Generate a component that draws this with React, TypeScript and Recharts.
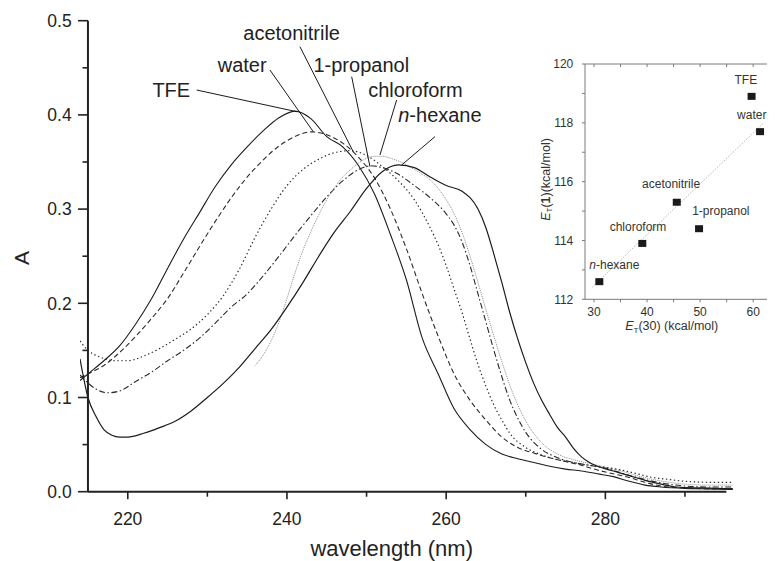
import React from "react";
import {
  ComposedChart,
  Label,
  Line,
  LineChart,
  ReferenceDot,
  ReferenceLine,
  Scatter,
  XAxis,
  YAxis,
} from "recharts";

// ---- UV spectra: wavelength (nm) / absorbance ----
const TFE_WL = [214, 215, 217, 219, 221, 223, 225, 227, 229, 231, 233, 235, 237, 239, 241, 243, 245, 247, 249, 251, 253, 255, 257, 259, 261, 263, 265, 267, 269, 271, 273, 275, 277, 279, 281, 283, 285, 287, 290, 293, 296];
const TFE_A = [0.118, 0.125, 0.139, 0.155, 0.178, 0.205, 0.237, 0.268, 0.296, 0.324, 0.347, 0.366, 0.383, 0.397, 0.404, 0.396, 0.377, 0.366, 0.346, 0.316, 0.273, 0.225, 0.163, 0.125, 0.088, 0.066, 0.05, 0.04, 0.035, 0.031, 0.027, 0.024, 0.022, 0.019, 0.016, 0.011, 0.007, 0.005, 0.0035, 0.003, 0.0025];

const WATER_WL = [214, 215, 217, 219, 221, 223, 225, 227, 229, 231, 233, 235, 237, 239, 241, 243, 245, 247, 249, 251, 253, 255, 257, 259, 261, 263, 265, 267, 269, 271, 273, 275, 277, 279, 281, 283, 285, 287, 290, 293, 296];
const WATER_A = [0.121, 0.125, 0.134, 0.148, 0.165, 0.184, 0.205, 0.232, 0.26, 0.287, 0.312, 0.334, 0.352, 0.367, 0.377, 0.382, 0.379, 0.37, 0.355, 0.333, 0.3, 0.258, 0.21, 0.165, 0.125, 0.097, 0.076, 0.058, 0.047, 0.041, 0.036, 0.032, 0.028, 0.023, 0.019, 0.015, 0.01, 0.006, 0.004, 0.003, 0.003];

const ACN_WL = [214, 215, 216.5, 218.5, 220, 222, 224, 226, 228, 230, 232, 234, 236, 238, 240, 242, 244, 246, 248, 250, 252, 254, 256, 258, 259, 260, 261, 262, 263, 264, 265, 266, 267, 268, 270, 272, 274, 276, 278, 280, 282, 284, 286, 288, 290, 293, 296];
const ACN_A = [0.16, 0.15, 0.143, 0.139, 0.139, 0.144, 0.152, 0.162, 0.173, 0.188, 0.208, 0.236, 0.27, 0.3, 0.325, 0.342, 0.353, 0.36, 0.362, 0.357, 0.345, 0.33, 0.31, 0.28, 0.262, 0.24, 0.215, 0.19, 0.162, 0.135, 0.112, 0.092, 0.076, 0.062, 0.047, 0.039, 0.034, 0.031, 0.028, 0.026, 0.023, 0.019, 0.015, 0.013, 0.011, 0.01, 0.01];

const PROP_WL = [214, 216, 217.5, 219, 221, 223, 225, 227, 229, 231, 233, 235, 237, 239, 241, 243, 245, 247, 249, 250.5, 252, 254, 256, 258, 260, 261, 262, 263, 264, 265, 266, 267, 268, 269, 270, 272, 274, 276, 278, 280, 282, 284, 286, 288, 290, 293, 296];
const PROP_A = [0.124, 0.109, 0.105, 0.107, 0.117, 0.127, 0.139, 0.15, 0.163, 0.179, 0.196, 0.21, 0.229, 0.25, 0.272, 0.293, 0.313, 0.33, 0.342, 0.346, 0.344, 0.337, 0.325, 0.312, 0.295, 0.283, 0.265, 0.24, 0.21, 0.18, 0.15, 0.122, 0.097, 0.078, 0.063, 0.045, 0.036, 0.031, 0.028, 0.025, 0.02, 0.015, 0.011, 0.008, 0.006, 0.005, 0.005];

const CHL_WL = [236, 237, 238, 239, 240, 241, 242, 243, 244, 245, 246, 247, 248, 249, 250, 251, 252, 253, 254, 255, 256, 257, 258, 259, 260, 261, 262, 263, 264, 265, 266, 267, 268, 269, 270, 271, 272, 274, 276, 278, 280, 282, 284, 286, 288, 290, 293, 296];
const CHL_A = [0.134, 0.145, 0.16, 0.18, 0.205, 0.232, 0.256, 0.276, 0.294, 0.31, 0.323, 0.334, 0.342, 0.349, 0.354, 0.356, 0.356, 0.354, 0.351, 0.347, 0.342, 0.337, 0.331, 0.322, 0.31, 0.295, 0.275, 0.25, 0.222, 0.193, 0.165, 0.138, 0.113, 0.092, 0.075, 0.062, 0.052, 0.04, 0.034, 0.03, 0.026, 0.022, 0.017, 0.013, 0.01, 0.008, 0.007, 0.007];

const HEX_WL = [214, 215, 216, 217, 218, 219, 220, 222, 224, 226, 228, 230, 232, 234, 236, 238, 240, 242, 244, 246, 248, 250, 252, 254, 256, 258, 260, 262, 264, 265, 266, 267, 268, 269, 270, 271, 272, 273, 274, 275, 276, 277, 278, 279, 281, 283, 285, 287, 289, 292, 296];
const HEX_A = [0.141, 0.1, 0.08, 0.066, 0.06, 0.058, 0.058, 0.062, 0.068, 0.075, 0.086, 0.1, 0.115, 0.132, 0.152, 0.172, 0.196, 0.222, 0.25, 0.276, 0.298, 0.322, 0.34, 0.347, 0.344, 0.334, 0.325, 0.319, 0.3, 0.28, 0.252, 0.222, 0.19, 0.162, 0.137, 0.115, 0.097, 0.082, 0.068, 0.058, 0.046, 0.037, 0.031, 0.027, 0.022, 0.017, 0.012, 0.008, 0.005, 0.004, 0.003];

const WL_TICKS = [220, 230, 240, 250, 260, 270, 280, 290];
const A_TICKS = [0, 0.05, 0.1, 0.15, 0.2, 0.25, 0.3, 0.35, 0.4, 0.45, 0.5];

// ---- inset: E_T(30) vs E_T(1) ----
const SOLVENTS = ["n-hexane", "chloroform", "acetonitrile", "1-propanol", "TFE", "water"];
const ET30 = [31.0, 39.1, 45.6, 49.8, 59.7, 61.3];
const ET1 = [112.6, 113.9, 115.3, 114.4, 118.9, 117.7];
const FIT_ET30 = [29.7, 61.9];
const FIT_ET1 = [112.42, 117.98];
const ET30_TICKS = [30, 35, 40, 45, 50, 55, 60, 65];
const ET1_TICKS = [112, 113, 114, 115, 116, 117, 118, 119, 120];

// leader lines: [label end, point on curve]
const LEADERS = [
  { name: "TFE", from: [228.66, 0.4264], to: [241.22, 0.4034] },
  { name: "water", from: [237.86, 0.4477], to: [243.3, 0.3822] },
  { name: "acetonitrile", from: [241.63, 0.4724], to: [248.33, 0.3609] },
  { name: "1-propanol", from: [248.13, 0.4406], to: [250.43, 0.345] },
  { name: "chloroform", from: [253.78, 0.4158], to: [251.68, 0.3574] },
  { name: "n-hexane", from: [258.59, 0.3769], to: [254.41, 0.3468] },
];

const LEADER_TEXT: Record<string, { dx: number; dy: number; anchor: string }> = {
  TFE: { dx: -6.5, dy: 7, anchor: "end" },
  water: { dx: -3.3, dy: 1.7, anchor: "end" },
  acetonitrile: { dx: -8.3, dy: -6.7, anchor: "middle" },
  "1-propanol": { dx: 9.6, dy: -4.7, anchor: "middle" },
  chloroform: { dx: 18.8, dy: -3, anchor: "middle" },
  "n-hexane": { dx: 5, dy: -15, anchor: "middle" },
};

const INSET_TEXT: Record<string, { dx: number; dy: number }> = {
  TFE: { dx: -5.7, dy: -12.7 },
  water: { dx: -8.3, dy: -12.7 },
  acetonitrile: { dx: -5.7, dy: -14 },
  "1-propanol": { dx: 21.8, dy: -13.7 },
  chloroform: { dx: -4.3, dy: -12 },
  "n-hexane": { dx: 15, dy: -13 },
};

const FONT = "'Liberation Sans', Arial, Helvetica, sans-serif";
const INK = "#222";
const INSET_AXIS = "#7a7a7a";

const W = 767;
const H = 553;
const PLOT_LEFT = 72;
const PLOT_RIGHT = 728.7;
const PLOT_TOP = 12.7;
const PLOT_BOTTOM = 483.7;
const WL_MIN = 214;
const WL_MAX = 296.5;
const AXIS_X = PLOT_LEFT + ((215 - WL_MIN) * (PLOT_RIGHT - PLOT_LEFT)) / (WL_MAX - WL_MIN);

// inset geometry (relative to the inset svg)
const IN_W = 260;
const IN_H = 320;
const IN_LEFT = 47;
const IN_RIGHT = 247;
const IN_TOP = 26;
const ET30_MIN = 28.3;
const ET30_MAX = 66;
const inX = (v: number) => IN_LEFT + ((v - ET30_MIN) * (IN_RIGHT - IN_LEFT)) / (ET30_MAX - ET30_MIN);

const zip = (xs: number[], ys: number[]) => xs.map((x, i) => ({ x, y: ys[i] }));

const SERIES = [
  { name: "TFE", data: zip(TFE_WL, TFE_A), stroke: "#1c1c1c", dash: undefined, width: 1.1 },
  { name: "water", data: zip(WATER_WL, WATER_A), stroke: "#2a2a2a", dash: "5 3", width: 1.1 },
  { name: "acetonitrile", data: zip(ACN_WL, ACN_A), stroke: "#2a2a2a", dash: "1.4 2.6", width: 1.2 },
  { name: "1-propanol", data: zip(PROP_WL, PROP_A), stroke: "#2a2a2a", dash: "6 2.5 1.5 2.5", width: 1.1 },
  { name: "chloroform", data: zip(CHL_WL, CHL_A), stroke: "#8a8a8a", dash: "1 1", width: 1 },
  { name: "n-hexane", data: zip(HEX_WL, HEX_A), stroke: "#1c1c1c", dash: undefined, width: 1.2 },
];

const INSET_POINTS = SOLVENTS.map((name, i) => ({ name, x: ET30[i], y: ET1[i] }));
const FIT = zip(FIT_ET30, FIT_ET1);

function SolventName({ name }: { name: string }) {
  if (name === "n-hexane") {
    return (
      <>
        <tspan fontStyle="italic">n</tspan>
        <tspan>-hexane</tspan>
      </>
    );
  }
  return <>{name}</>;
}

function WlTick(props: any) {
  const { x, payload } = props;
  const major = payload.value % 20 === 0;
  return (
    <g>
      <line x1={x} x2={x} y1={PLOT_BOTTOM} y2={PLOT_BOTTOM + (major ? 7.5 : 5)} stroke={INK} strokeWidth={1.6} />
      {major && (
        <text x={x} y={PLOT_BOTTOM + 32.8} textAnchor="middle" fontFamily={FONT} fontSize={17.5} fill={INK}>
          {payload.value}
        </text>
      )}
    </g>
  );
}

function ATick(props: any) {
  const { y, payload } = props;
  const v = payload.value as number;
  const major = Math.abs(v * 10 - Math.round(v * 10)) < 1e-6;
  return (
    <g>
      <line x1={AXIS_X - (major ? 10 : 5.5)} x2={AXIS_X} y1={y} y2={y} stroke={INK} strokeWidth={1.6} />
      {major && (
        <text x={AXIS_X - 16.3} y={y} dy="0.36em" textAnchor="end" fontFamily={FONT} fontSize={17.5} fill={INK}>
          {v.toFixed(1)}
        </text>
      )}
    </g>
  );
}

function InsetSquare(props: any) {
  const { cx, cy, payload } = props;
  const t = INSET_TEXT[payload.name];
  return (
    <g>
      <rect x={cx - 4} y={cy - 3.5} width={8} height={7} fill="#1a1a1a" />
      <text x={cx + t.dx} y={cy + t.dy} textAnchor="middle" fontFamily={FONT} fontSize={12} fill="#333">
        <SolventName name={payload.name} />
      </text>
    </g>
  );
}

// top frame of the inset, with small inward ticks
function InsetTopFrame() {
  return (
    <g>
      <line x1={IN_LEFT} x2={IN_W} y1={IN_TOP} y2={IN_TOP} stroke={INSET_AXIS} strokeWidth={1} />
      {ET30_TICKS.map((t) => (
        <line key={t} x1={inX(t)} x2={inX(t)} y1={IN_TOP} y2={IN_TOP + 3} stroke={INSET_AXIS} strokeWidth={1} />
      ))}
    </g>
  );
}

function Spectra() {
  return (
    <LineChart
      width={W}
      height={H}
      margin={{ top: PLOT_TOP, right: W - PLOT_RIGHT, bottom: 0, left: 0 }}
      style={{ fontFamily: FONT }}
    >
      <XAxis
        dataKey="x"
        type="number"
        domain={[WL_MIN, WL_MAX]}
        allowDataOverflow
        ticks={WL_TICKS}
        interval={0}
        axisLine={false}
        tickLine={false}
        tickSize={0}
        tickMargin={0}
        height={H - PLOT_BOTTOM}
        tick={(p: any) => <WlTick {...p} />}
      >
        <Label
          content={() => (
            <text x={383.7} y={547.5} textAnchor="middle" fontFamily={FONT} fontSize={22} fill={INK}>
              wavelength (nm)
            </text>
          )}
        />
      </XAxis>
      <YAxis
        dataKey="y"
        type="number"
        domain={[0, 0.5]}
        allowDataOverflow
        ticks={A_TICKS}
        interval={0}
        axisLine={false}
        tickLine={false}
        tickSize={0}
        tickMargin={0}
        width={PLOT_LEFT}
        tick={(p: any) => <ATick {...p} />}
      >
        <Label
          content={() => (
            <text
              x={13}
              y={250}
              transform="rotate(-90 13 250)"
              textAnchor="middle"
              dominantBaseline="central"
              fontFamily={FONT}
              fontSize={21}
              fill={INK}
            >
              A
            </text>
          )}
        />
      </YAxis>

      {SERIES.map((s) => (
        <Line
          key={s.name}
          data={s.data}
          dataKey="y"
          type="monotone"
          stroke={s.stroke}
          strokeWidth={s.width}
          strokeDasharray={s.dash}
          dot={false}
          activeDot={false}
          isAnimationActive={false}
        />
      ))}

      {/* axes */}
      <ReferenceLine
        segment={[{ x: 215, y: 0 }, { x: 295.2, y: 0 }]}
        stroke={INK}
        strokeWidth={2}
        ifOverflow="visible"
      />
      <ReferenceLine
        segment={[{ x: 215, y: 0 }, { x: 215, y: 0.5 }]}
        stroke={INK}
        strokeWidth={2}
        ifOverflow="visible"
      />

      {LEADERS.map((l) => (
        <ReferenceLine
          key={l.name}
          segment={[{ x: l.from[0], y: l.from[1] }, { x: l.to[0], y: l.to[1] }]}
          stroke="#1a1a1a"
          strokeWidth={1}
          ifOverflow="visible"
        />
      ))}
      {LEADERS.map((l) => {
        const t = LEADER_TEXT[l.name];
        return (
          <ReferenceDot
            key={"t" + l.name}
            x={l.from[0]}
            y={l.from[1]}
            r={0}
            ifOverflow="visible"
            shape={(p: any) => (
              <text
                x={p.cx + t.dx}
                y={p.cy + t.dy}
                textAnchor={t.anchor as any}
                fontFamily={FONT}
                fontSize={20}
                fill={INK}
              >
                <SolventName name={l.name} />
              </text>
            )}
          />
        );
      })}
    </LineChart>
  );
}

function Inset() {
  return (
    <ComposedChart width={IN_W} height={IN_H} margin={{ top: IN_TOP, right: IN_W - IN_RIGHT, bottom: 0, left: 0 }}>
      <XAxis
        dataKey="x"
        type="number"
        domain={[ET30_MIN, ET30_MAX]}
        allowDataOverflow
        ticks={ET30_TICKS}
        interval={0}
        height={58.7}
        stroke={INSET_AXIS}
        tickSize={3}
        tickMargin={5}
        tick={{ fontSize: 12, fill: "#333", fontFamily: FONT }}
        tickFormatter={(v: number) => (v % 10 === 0 ? String(v) : "")}
      >
        <Label
          content={() => (
            <text x={133.7} y={292} textAnchor="middle" fontFamily={FONT} fontSize={12.5} fill="#333">
              <tspan fontStyle="italic">E</tspan>
              <tspan fontSize={8} dy={3}>T</tspan>
              <tspan dy={-3}>(30) (kcal/mol)</tspan>
            </text>
          )}
        />
        <Label content={() => <InsetTopFrame />} />
      </XAxis>
      <YAxis
        dataKey="y"
        type="number"
        domain={[112, 120]}
        allowDataOverflow
        ticks={ET1_TICKS}
        interval={0}
        width={IN_LEFT}
        stroke={INSET_AXIS}
        tickSize={3}
        tickMargin={8.7}
        tick={{ fontSize: 12, fill: "#333", fontFamily: FONT }}
        tickFormatter={(v: number) => (v % 2 === 0 ? String(v) : "")}
      >
        <Label
          content={() => (
            <text
              x={8}
              y={141.5}
              transform="rotate(-90 8 141.5)"
              textAnchor="middle"
              dominantBaseline="central"
              fontFamily={FONT}
              fontSize={12.5}
              fill="#333"
            >
              <tspan fontStyle="italic">E</tspan>
              <tspan fontSize={8} dy={3}>T</tspan>
              <tspan dy={-3}>(</tspan>
              <tspan fontWeight="bold">1</tspan>
              <tspan>)(kcal/mol)</tspan>
            </text>
          )}
        />
      </YAxis>

      <Line
        data={FIT}
        dataKey="y"
        type="linear"
        stroke="#a0a0a0"
        strokeWidth={1}
        strokeDasharray="1 1.5"
        dot={false}
        activeDot={false}
        isAnimationActive={false}
      />
      <Scatter data={INSET_POINTS} dataKey="y" shape={(p: any) => <InsetSquare {...p} />} isAnimationActive={false} />
    </ComposedChart>
  );
}

export default function App() {
  return (
    <div style={{ position: "relative", width: W, height: H, overflow: "hidden", background: "#fff" }}>
      <Spectra />
      <div style={{ position: "absolute", left: 530, top: 30 }}>
        <Inset />
      </div>
    </div>
  );
}
